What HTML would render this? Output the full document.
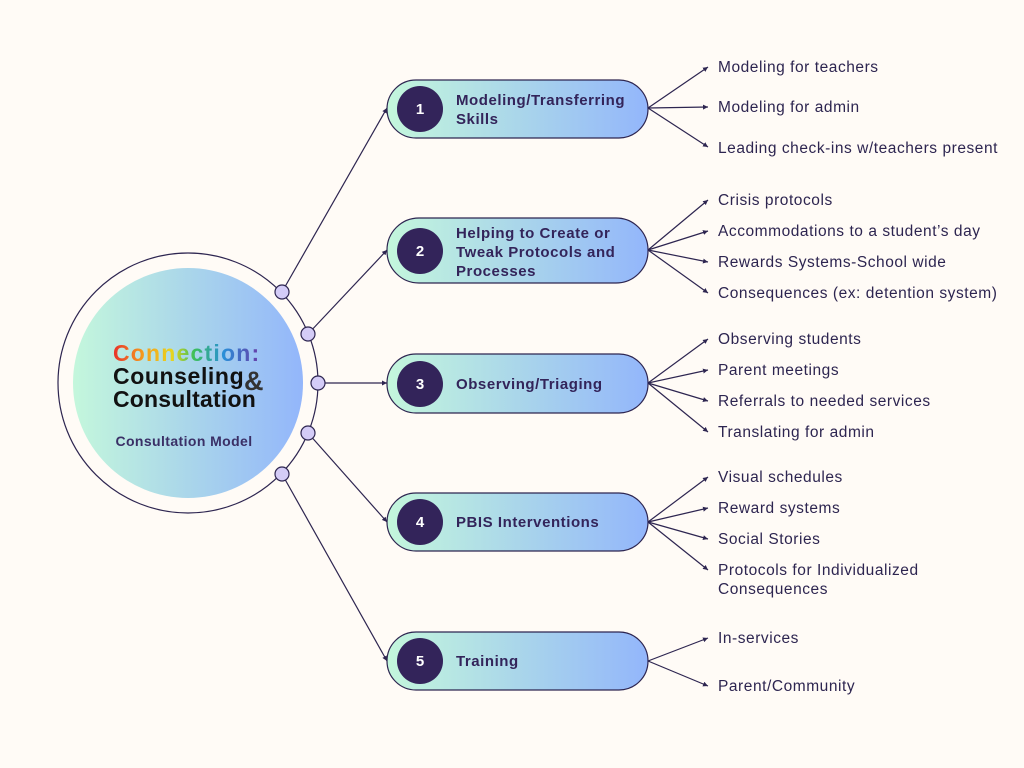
<!DOCTYPE html>
<html><head><meta charset="utf-8"><style>
html,body{margin:0;padding:0;background:#fffbf6;}
svg{display:block;font-family:"Liberation Sans",sans-serif;}
</style></head><body>
<svg width="1024" height="768" viewBox="0 0 1024 768" xmlns="http://www.w3.org/2000/svg">
<defs>
<linearGradient id="g" x1="0" x2="1" y1="0" y2="0">
<stop offset="0" stop-color="#c4f7dc"/><stop offset="0.5" stop-color="#aad6ea"/><stop offset="1" stop-color="#93b6fb"/>
</linearGradient>
<linearGradient id="rb" x1="0" x2="1">
<stop offset="0" stop-color="#e8302a"/><stop offset="0.2" stop-color="#f59a1e"/><stop offset="0.4" stop-color="#e8d51e"/><stop offset="0.55" stop-color="#3cbf5a"/><stop offset="0.75" stop-color="#2a8fd8"/><stop offset="1" stop-color="#6a3aa6"/>
</linearGradient>
<marker id="a" markerWidth="6" markerHeight="6" refX="5" refY="3" orient="auto" markerUnits="userSpaceOnUse"><path d="M0,0.5 L5,3 L0,5.5z" fill="#2d2550"/></marker>
</defs>
<rect width="1024" height="768" fill="#fffbf6"/>
<g stroke="#2d2550" stroke-width="1.2" fill="none">
<circle cx="188" cy="383" r="130"/>
<line x1="282" y1="292" x2="387" y2="108" marker-end="url(#a)"/>
<line x1="308" y1="334" x2="387" y2="250" marker-end="url(#a)"/>
<line x1="318" y1="383" x2="387" y2="383" marker-end="url(#a)"/>
<line x1="308" y1="433" x2="387" y2="522" marker-end="url(#a)"/>
<line x1="282" y1="474" x2="387" y2="661" marker-end="url(#a)"/>
<g marker-end="url(#a)">
<line x1="648" y1="108" x2="708" y2="67"/><line x1="648" y1="108" x2="708" y2="107"/><line x1="648" y1="108" x2="708" y2="147"/>
<line x1="648" y1="250" x2="708" y2="200"/><line x1="648" y1="250" x2="708" y2="231"/><line x1="648" y1="250" x2="708" y2="262"/><line x1="648" y1="250" x2="708" y2="293"/>
<line x1="648" y1="383" x2="708" y2="339"/><line x1="648" y1="383" x2="708" y2="370"/><line x1="648" y1="383" x2="708" y2="401"/><line x1="648" y1="383" x2="708" y2="432"/>
<line x1="648" y1="522" x2="708" y2="477"/><line x1="648" y1="522" x2="708" y2="508"/><line x1="648" y1="522" x2="708" y2="539"/><line x1="648" y1="522" x2="708" y2="570"/>
<line x1="648" y1="661" x2="708" y2="638"/><line x1="648" y1="661" x2="708" y2="686"/>
</g>
</g>
<circle cx="188" cy="383" r="115" fill="url(#g)"/>
<g fill="#d4ccf7" stroke="#2d2550" stroke-width="1.2">
<circle cx="282" cy="292" r="7"/><circle cx="308" cy="334" r="7"/><circle cx="318" cy="383" r="7"/><circle cx="308" cy="433" r="7"/><circle cx="282" cy="474" r="7"/>
</g>
<text x="113" y="361" font-size="23" font-weight="bold" fill="url(#rb)" letter-spacing="1.2">Connection:</text>
<text x="113" y="384" font-size="23" font-weight="bold" fill="#111" letter-spacing="0.6">Counseling</text>
<text x="244" y="390" font-size="27" font-weight="bold" fill="#333">&amp;</text>
<text x="113" y="407" font-size="23" font-weight="bold" fill="#111" letter-spacing="0.2">Consultation</text>
<text x="184" y="446" font-size="14" font-weight="bold" fill="#3a2f66" text-anchor="middle" letter-spacing="0.4">Consultation Model</text>
<g stroke="#2d2550" stroke-width="1.2" fill="url(#g)">
<rect x="387" y="80" width="261" height="58" rx="29"/>
<rect x="387" y="218" width="261" height="65" rx="32"/>
<rect x="387" y="354" width="261" height="59" rx="29"/>
<rect x="387" y="493" width="261" height="58" rx="29"/>
<rect x="387" y="632" width="261" height="58" rx="29"/>
</g>
<g fill="#33245a">
<circle cx="420" cy="109" r="23"/><circle cx="420" cy="251" r="23"/><circle cx="420" cy="384" r="23"/><circle cx="420" cy="522" r="23"/><circle cx="420" cy="661" r="23"/>
</g>
<g fill="#fff" font-size="15" font-weight="bold" text-anchor="middle">
<text x="420" y="114">1</text><text x="420" y="256">2</text><text x="420" y="389">3</text><text x="420" y="527">4</text><text x="420" y="666">5</text>
</g>
<g fill="#33245a" font-size="15" font-weight="bold" letter-spacing="0.55">
<text x="456" y="105">Modeling/Transferring</text><text x="456" y="124">Skills</text>
<text x="456" y="238">Helping to Create or</text><text x="456" y="257">Tweak Protocols and</text><text x="456" y="276">Processes</text>
<text x="456" y="389">Observing/Triaging</text>
<text x="456" y="527">PBIS Interventions</text>
<text x="456" y="666">Training</text>
</g>
<g fill="#2d2550" font-size="15.5" letter-spacing="0.55">
<text x="718" y="72">Modeling for teachers</text>
<text x="718" y="112">Modeling for admin</text>
<text x="718" y="153">Leading check-ins w/teachers present</text>
<text x="718" y="205">Crisis protocols</text>
<text x="718" y="236">Accommodations to a student’s day</text>
<text x="718" y="267">Rewards Systems-School wide</text>
<text x="718" y="298">Consequences (ex: detention system)</text>
<text x="718" y="344">Observing students</text>
<text x="718" y="375">Parent meetings</text>
<text x="718" y="406">Referrals to needed services</text>
<text x="718" y="437">Translating for admin</text>
<text x="718" y="482">Visual schedules</text>
<text x="718" y="513">Reward systems</text>
<text x="718" y="544">Social Stories</text>
<text x="718" y="575">Protocols for Individualized</text>
<text x="718" y="594">Consequences</text>
<text x="718" y="643">In-services</text>
<text x="718" y="691">Parent/Community</text>
</g>
</svg>
</body></html>
